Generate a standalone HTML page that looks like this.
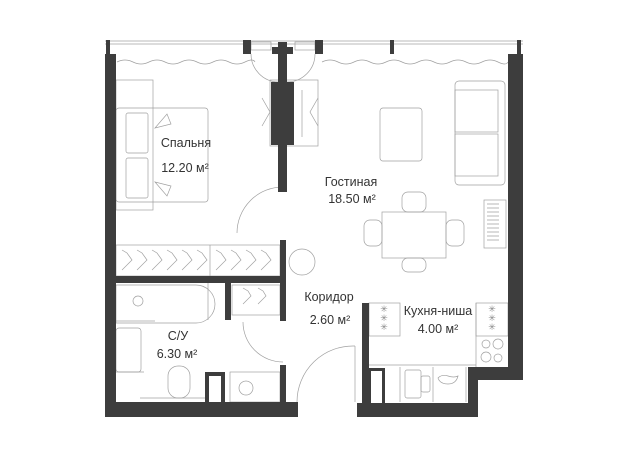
<!DOCTYPE html>
<html><head><meta charset="utf-8"><style>
html,body{margin:0;padding:0;background:#fff;}
svg{display:block}
text{font-family:"Liberation Sans",sans-serif;fill:#333;font-size:12.5px;text-anchor:middle}
</style></head><body>
<svg width="637" height="450" viewBox="0 0 637 450" xmlns="http://www.w3.org/2000/svg">
<g fill="none" stroke="#a0a0a0" stroke-width="0.7">
 <line x1="105" y1="41" x2="523" y2="41"/><line x1="105" y1="44" x2="523" y2="44"/>
 <path d="M117 62 q8 -4 16 0 t16 0 t16 0 t16 0 t16 0 t16 0 t16 0 t16 0 t10 0"/>
 <path d="M322 62 q8 -4 16 0 t16 0 t16 0 t16 0 t16 0 t16 0 t16 0 t16 0 t16 0 t16 0 t16 0 t10 0"/>
 <rect x="251" y="42" width="20" height="8"/><rect x="295" y="42" width="20" height="8"/>
 <path d="M251 54 a28 28 0 0 0 27 28"/><path d="M315 54 a28 28 0 0 1 -28 28"/>
 <rect x="270" y="80" width="48" height="66"/><line x1="302" y1="90" x2="302" y2="137"/>
 <path d="M262 98 l8 14 l-8 14 M318 98 l-8 14 l8 14"/>
 <rect x="116" y="80" width="37" height="130"/>
 <rect x="116" y="108" width="92" height="94" rx="3"/>
 <rect x="126" y="113" width="22" height="40" rx="2"/><rect x="126" y="158" width="22" height="40" rx="2"/>
 <path d="M155 128 l12 -14 l4 10 z M155 182 l12 14 l4 -10 z"/>
 <path d="M237 233 a46 46 0 0 1 46 -46"/>
 <rect x="455" y="81" width="50" height="104" rx="4"/><rect x="455" y="90" width="43" height="42"/><rect x="455" y="134" width="43" height="42"/>
 <rect x="380" y="108" width="42" height="53" rx="3"/>
 <rect x="382" y="212" width="64" height="46"/>
 <rect x="402" y="192" width="24" height="20" rx="6"/><rect x="402" y="258" width="24" height="14" rx="6"/>
 <rect x="364" y="220" width="18" height="26" rx="6"/><rect x="446" y="220" width="18" height="26" rx="6"/>
 <rect x="484" y="200" width="22" height="48"/>
 <path d="M487 204 h12 M487 208 h12 M487 212 h12 M487 216 h12 M487 220 h12 M487 224 h12 M487 228 h12 M487 232 h12 M487 236 h12 M487 240 h12"/>
 <rect x="116" y="245" width="164" height="31"/><line x1="210" y1="245" x2="210" y2="276"/>
 <path d="M122 250 l5 3 l5 7 l-10 10 M137 250 l5 3 l5 7 l-10 10 M152 250 l5 3 l5 7 l-10 10 M167 250 l5 3 l5 7 l-10 10 M182 250 l5 3 l5 7 l-10 10 M197 250 l5 3 l5 7 l-10 10 M216 250 l5 3 l5 7 l-10 10 M231 250 l5 3 l5 7 l-10 10 M246 250 l5 3 l5 7 l-10 10 M261 250 l5 3 l5 7 l-10 10"/>
 <circle cx="302" cy="262" r="13"/>
 <rect x="232" y="285" width="48" height="30"/>
 <path d="M243 288 l5 3 l3 5 l-8 8 M258 288 l5 3 l3 5 l-8 8"/>
 <path d="M116 285 h80 a19 19 0 0 1 0 38 h-80 z"/><line x1="208" y1="283" x2="208" y2="320"/>
 <circle cx="138" cy="301" r="5"/><line x1="116" y1="321" x2="155" y2="321"/>
 <rect x="116" y="328" width="25" height="44" rx="3"/><line x1="116" y1="372" x2="144" y2="372"/>
 <line x1="140" y1="398" x2="205" y2="398"/>
 <rect x="168" y="366" width="22" height="32" rx="10"/>
 <rect x="230" y="372" width="50" height="30"/><circle cx="246" cy="388" r="7"/>
 <path d="M243 322 a40 40 0 0 0 40 40"/>
 <path d="M355 346 a56 56 0 0 0 -58 56"/><line x1="355" y1="346" x2="355" y2="402"/>
 <rect x="369" y="303" width="31" height="33"/><rect x="476" y="303" width="32" height="33"/>
 <line x1="369" y1="365" x2="476" y2="365"/><line x1="476" y1="303" x2="476" y2="367"/>
 <circle cx="486" cy="344" r="4"/><circle cx="498" cy="344" r="5"/><circle cx="486" cy="357" r="5"/><circle cx="498" cy="358" r="4"/>
 <line x1="400" y1="367" x2="400" y2="402"/><line x1="433" y1="367" x2="433" y2="402"/><line x1="466" y1="367" x2="466" y2="402"/>
 <rect x="405" y="370" width="16" height="28" rx="2"/><rect x="421" y="376" width="9" height="16" rx="2"/>
 <path d="M438 378 q4 -4 10 -2 q6 2 10 0 q-2 8 -10 8 q-8 0 -10 -6 z"/>
</g>
<g>
 <text x="384" y="312" style="font-size:9px;fill:#888">✳</text><text x="384" y="321" style="font-size:9px;fill:#888">✳</text><text x="384" y="330" style="font-size:9px;fill:#888">✳</text>
 <text x="492" y="312" style="font-size:9px;fill:#888">✳</text><text x="492" y="321" style="font-size:9px;fill:#888">✳</text><text x="492" y="330" style="font-size:9px;fill:#888">✳</text>
</g>
<g fill="#3d3d3d">
 <rect x="106" y="40" width="4" height="14"/><rect x="390" y="40" width="4" height="14"/><rect x="517" y="40" width="4" height="14"/>
 <rect x="243" y="40" width="8" height="14"/><rect x="315" y="40" width="8" height="14"/>
 <rect x="272" y="47" width="21" height="7"/>
 <rect x="105" y="54" width="11" height="363"/>
 <rect x="105" y="402" width="193" height="15"/>
 <rect x="508" y="54" width="15" height="326"/>
 <rect x="475" y="367" width="48" height="13"/>
 <rect x="468" y="367" width="10" height="50"/>
 <rect x="357" y="403" width="121" height="14"/>
 <rect x="362" y="303" width="7" height="114"/>
 <rect x="278" y="42" width="9" height="150"/>
 <rect x="271" y="82" width="23" height="63"/>
 <rect x="280" y="240" width="6" height="43"/>
 <rect x="116" y="276" width="170" height="7"/>
 <rect x="225" y="283" width="6" height="37"/>
 <rect x="280" y="283" width="6" height="38"/>
 <rect x="280" y="365" width="6" height="38"/>
 <path d="M205 372 h20 v30 h-4 v-26 h-12 v26 h-4 z"/>
 <path d="M362 368 h23 v35 h-3 v-32 h-11 v32 h-9 z"/>
</g>
<text x="186" y="147">Спальня</text>
<text x="185" y="172">12.20 м²</text>
<text x="351" y="186">Гостиная</text>
<text x="352" y="203">18.50 м²</text>
<text x="329" y="301">Коридор</text>
<text x="330" y="324">2.60 м²</text>
<text x="178" y="340">С/У</text>
<text x="177" y="358">6.30 м²</text>
<text x="438" y="315">Кухня-ниша</text>
<text x="438" y="333">4.00 м²</text>
</svg>
</body></html>
